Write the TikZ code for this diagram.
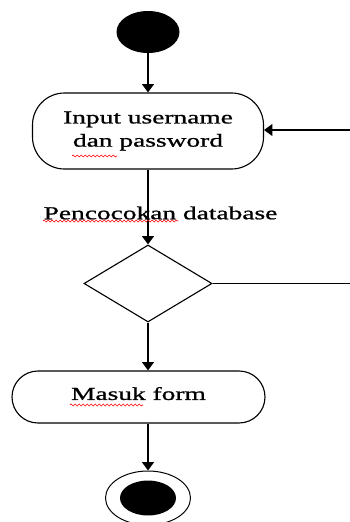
\documentclass[tikz,border=0pt]{standalone}
\usepackage{fontspec}
\setmainfont{Liberation Serif}[FakeStretch=1.5,FakeBold=1]
\usetikzlibrary{shapes,arrows.meta,positioning,calc,decorations.pathmorphing}

\begin{document}
\begin{tikzpicture}[
    act/.style={rectangle, draw, line width=1.6pt, align=center, font=\fontsize{26}{33}\selectfont},
    decision/.style={diamond, draw, line width=1.6pt, minimum width=6.4cm, minimum height=3.85cm, inner sep=0pt},
    initial/.style={ellipse, fill=black, minimum width=3.15cm, minimum height=2.1cm, inner sep=0pt},
    arrow/.style={-{Triangle[length=0.42cm,width=0.6cm]}, line width=1.8pt},
    typo/.style={red, line width=0.9pt, decorate, decoration={snake, amplitude=0.05cm, segment length=0.2cm}}
]
\useasboundingbox (0,0) rectangle (17.5,-26.1);

% Start
\node[initial] (start) at (7.4,-1.6) {};

% Login
\node[act, rounded corners=1.6cm, minimum width=11.55cm, minimum height=3.8cm] (input) at (7.4,-6.55) {Input username\\dan password};
\node[font=\fontsize{26}{33}\selectfont] (cocok) at (8.025,-10.65) {Pencocokan database};
\node[decision] (cek) at (7.4,-14.175) {};

% Form
\node[act, rounded corners=1.3cm, minimum width=12.65cm, minimum height=2.6cm, text depth=0.35cm] (masuk) at (6.925,-19.85) {Masuk form};

% End
\node[ellipse, draw, line width=1.4pt, minimum width=4.25cm, minimum height=2.7cm, inner sep=0pt] (end) at (7.4,-24.9) {};
\node[initial, minimum width=2.8cm, minimum height=1.75cm] (endin) at (end.center) {};

% Loop back (off the right edge)
\coordinate (back) at (17.5,-6.5);
\coordinate (fail) at (17.5,-14.175);

% Arrows
\foreach \i/\j in {start/input, input/cek} {
    \draw[arrow] (\i) -- (\j);
}
\draw[arrow] (cek) -- (cek.south |- masuk.north);
\draw[arrow] (masuk.south -| end.north) -- (end);
\draw[arrow] (back) -- (back -| input.east);
\draw[line width=1.6pt] (cek) -- (fail);

% Spell check marks
\draw[typo] (3.6,-7.8) -- (5.85,-7.8);
\draw[typo] (2.15,-11.05) -- (8.9,-11.05);
\draw[typo] (3.5,-20.25) -- (7.15,-20.25);

\end{tikzpicture}
\end{document}
